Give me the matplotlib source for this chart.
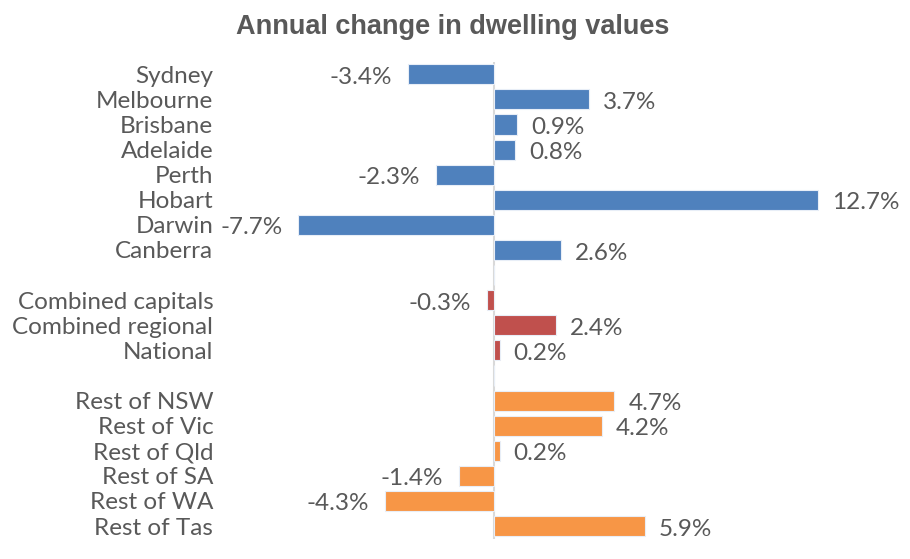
import matplotlib.pyplot as plt
import numpy as np

# data
regions = ['Sydney', 'Melbourne', 'Brisbane', 'Adelaide', 'Perth', 'Hobart', 'Darwin', 'Canberra',
           '',
           'Combined capitals', 'Combined regional', 'National',
           '',
           'Rest of NSW', 'Rest of Vic', 'Rest of Qld', 'Rest of SA', 'Rest of WA', 'Rest of Tas']
changes = [-3.4, 3.7, 0.9, 0.8, -2.3, 12.7, -7.7, 2.6,
           np.nan,
           -0.3, 2.4, 0.2,
           np.nan,
           4.7, 4.2, 0.2, -1.4, -4.3, 5.9]
groups = ['cap'] * 8 + [''] + ['agg'] * 3 + [''] + ['rest'] * 6

colours = {'cap': '#4F81BD', 'agg': '#C0504D', 'rest': '#F79646', '': 'none'}
grey = '#595959'
font = ['Lato', 'DejaVu Sans']

fig = plt.figure(figsize=(9.1, 5.59), dpi=100)
ax = fig.add_axes([298 / 910, 0.0365, (877 - 298) / 910, 0.853])

y = np.arange(len(regions))
vals = np.nan_to_num(changes)
ax.barh(y, vals, height=0.8, color=[colours[g] for g in groups],
        edgecolor='#E8EEF7', linewidth=0.8, zorder=2)

for yi, v in zip(y, changes):
    if np.isnan(v):
        continue
    off = 0.55 if v >= 0 else -0.6
    ax.text(v + off, yi + 0.12, f'{v:.1f}%', ha='left' if v >= 0 else 'right', va='center',
            fontsize=17.5, color=grey, family=font, clip_on=False)

ax.set_xlim(-7.7, 15)
ax.set_ylim(len(regions) - 0.5, -0.5)
ax.axvline(0, color='#D9D9D9', linewidth=1.5, zorder=1)

ax.set_yticks(y)
ax.set_yticklabels(regions, fontsize=17.5, color=grey, family=font)
ax.tick_params(axis='y', length=0, pad=61)
ax.set_xticks([])
for s in ax.spines.values():
    s.set_visible(False)

fig.text(0.497, 0.952, 'Annual change in dwelling values', ha='center', va='center',
         fontsize=19.5, fontweight='bold', color=grey, family=['Liberation Sans', 'DejaVu Sans'])

fig.savefig('out.png', dpi=100)
